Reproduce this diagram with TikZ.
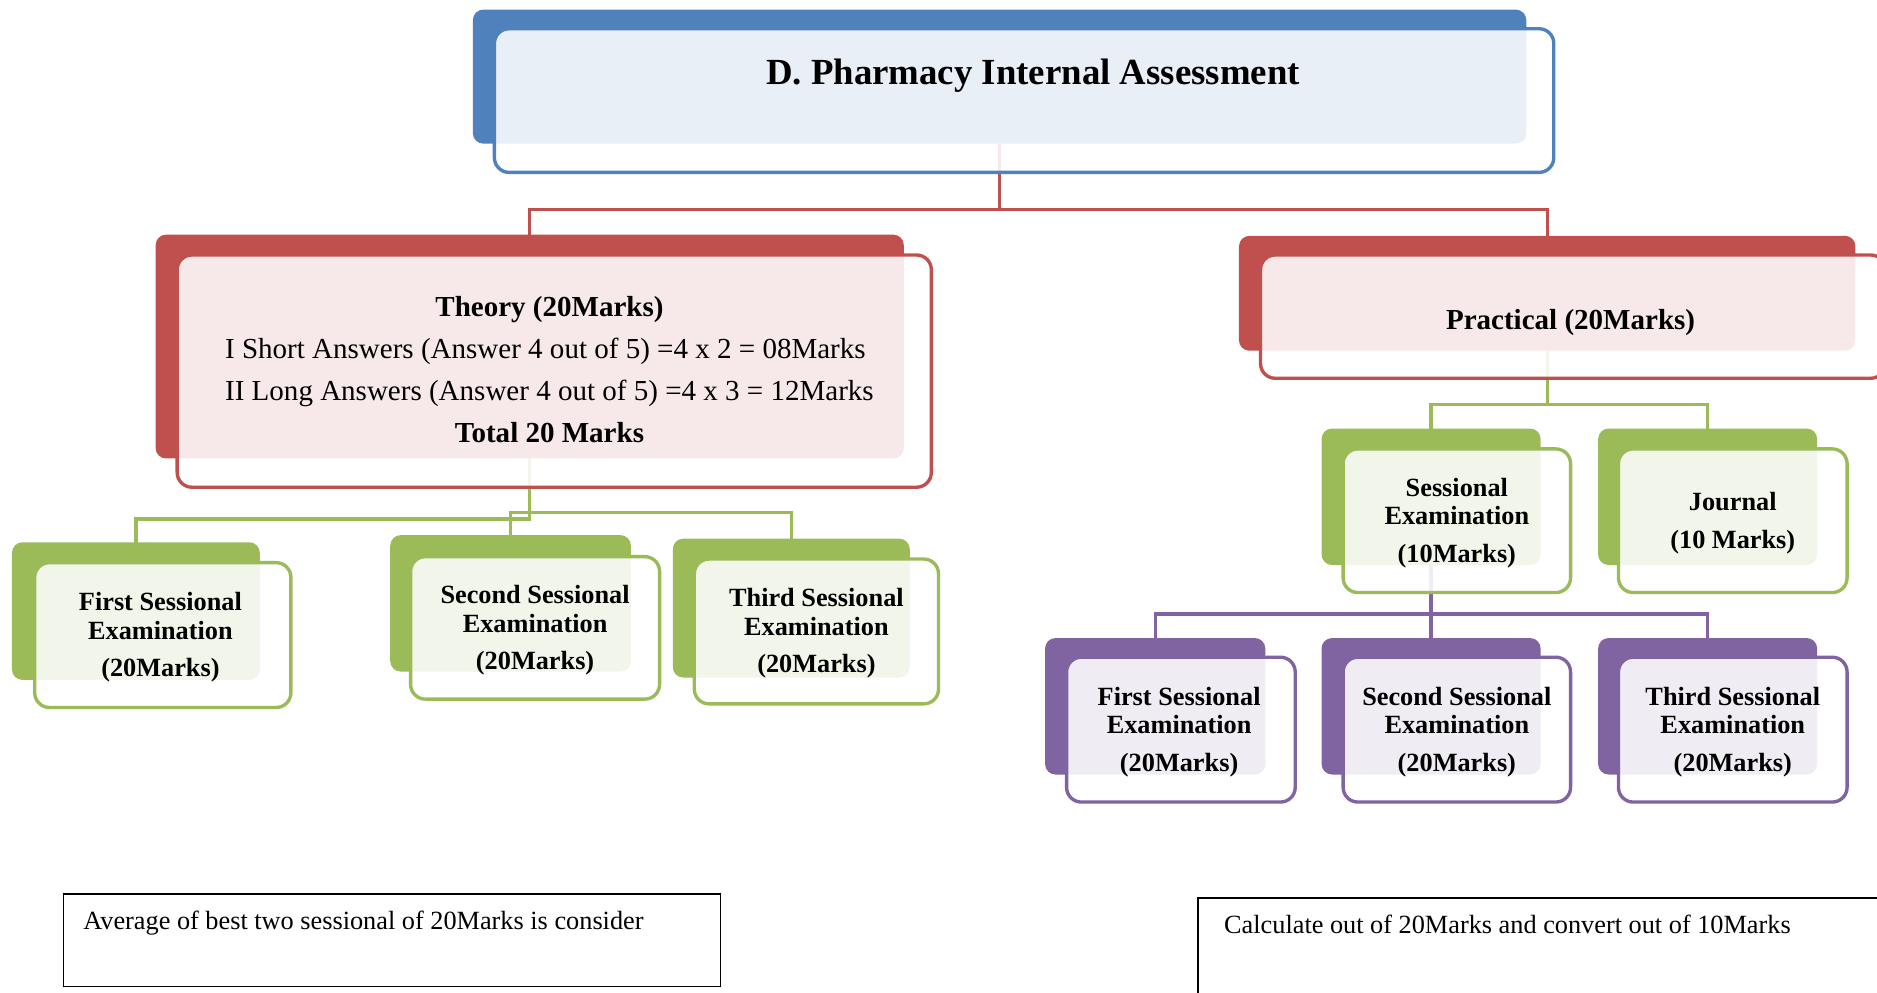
\documentclass[tikz,border=0pt]{standalone}
\usepackage{fontspec}
\setmainfont{Liberation Serif}
\usetikzlibrary{fit,calc,backgrounds}
\definecolor{hdblue}{HTML}{4F81BD}
\definecolor{hdred}{HTML}{C0504D}
\definecolor{hdgreen}{HTML}{9BBB59}
\definecolor{hdpurple}{HTML}{8064A2}
\tikzset{
    backbox/.style={rectangle, rounded corners=5pt, fill=#1, inner sep=0pt},
    frontbox/.style={rectangle, rounded corners=7pt, draw=#1, line width=1.6pt,
    fill=white, fill opacity=0.88, inner sep=0pt},
    boxtext/.style={align=center, inner sep=0pt, yshift=-1pt,
    font=\fontsize{12.5}{13.7}\selectfont\bfseries},
    bigtext/.style={boxtext, font=\fontsize{13.8}{20}\selectfont},
    link/.style={draw=#1, line width=1.6pt},
    notebox/.style={rectangle, draw=black, line width=0.8pt, inner sep=0pt},
    notetext/.style={anchor=west, inner sep=0pt, font=\fontsize{12.5}{15}\selectfont}
}

\begin{document}
\begin{tikzpicture}[x=0.02cm, y=-0.02cm]
    \useasboundingbox (0,0) rectangle (1568,829);
    \clip (0,0) rectangle (1568,829);

    \node [backbox=hdblue, fit={(395,8) (1275,120)}] (assess-bg) {};
    \node [frontbox=hdblue, fit={(413,24) (1298,144)}] (assess) {};
    \node [font=\fontsize{17.5}{21}\selectfont\bfseries] (title) at (863,63) {D. Pharmacy Internal Assessment};

    \node [backbox=hdred, fit={(130,196) (755,383)}] (theory-bg) {};
    \node [frontbox=hdred, fit={(148,213) (778,407)}] (theory) {};
    \node [bigtext] (theory-txt) at ($(theory.center)+(-4,-2)$)
        {\begin{tabular}{@{}l@{}}
        \multicolumn{1}{@{}c@{}}{\textbf{Theory (20Marks)}}\\
        I Short Answers (Answer 4 out of 5) =4 x 2 = 08Marks\\
        II Long Answers (Answer 4 out of 5) =4 x 3 = 12Marks\\
        \multicolumn{1}{@{}c@{}}{\textbf{Total 20 Marks}}
        \end{tabular}};

    \node [backbox=hdred, fit={(1035,197) (1550,293)}] (practical-bg) {};
    \node [frontbox=hdred, fit={(1053,213) (1575,316)}] (practical) {};
    \node [bigtext, font=\fontsize{13.8}{20}\selectfont\bfseries, yshift=-2pt] (practical-txt) at ($(practical.center)+(-2,0)$) {Practical (20Marks)};

    \node [backbox=hdgreen, fit={(10,453) (217,568)}] (first-bg) {};
    \node [frontbox=hdgreen, fit={(29,470) (243,591)}] (first) {};
    \node [boxtext] (first-txt) at ($(first.center)+(-2,0)$) {First Sessional\\ Examination\\[4pt] (20Marks)};
    \node [backbox=hdgreen, fit={(326,447) (527,561)}] (second-bg) {};
    \node [frontbox=hdgreen, fit={(343,465) (551,584)}] (second) {};
    \node [boxtext] (second-txt) at (second.center) {Second Sessional\\ Examination\\[4pt] (20Marks)};
    \node [backbox=hdgreen, fit={(562,450) (760,566)}] (third-bg) {};
    \node [frontbox=hdgreen, fit={(580,467) (784,588)}] (third) {};
    \node [boxtext] (third-txt) at (third.center) {Third Sessional\\ Examination\\[4pt] (20Marks)};

    \node [backbox=hdgreen, fit={(1104,358) (1287,472)}] (sessional-bg) {};
    \node [frontbox=hdgreen, fit={(1122,375) (1312,495)}] (sessional) {};
    \node [boxtext] (sessional-txt) at (sessional.center) {Sessional\\ Examination\\[4pt] (10Marks)};
    \node [backbox=hdgreen, fit={(1335,358) (1518,472)}] (journal-bg) {};
    \node [frontbox=hdgreen, fit={(1352,375) (1543,495)}] (journal) {};
    \node [boxtext] (journal-txt) at (journal.center) {Journal\\[4.3pt] (10 Marks)};

    \node [backbox=hdpurple, fit={(873,533) (1057,647)}] (pfirst-bg) {};
    \node [frontbox=hdpurple, fit={(891,549) (1082,670)}] (pfirst) {};
    \node [boxtext] (pfirst-txt) at ($(pfirst.center)+(-1.5,0)$) {First Sessional\\ Examination\\[4pt] (20Marks)};
    \node [backbox=hdpurple, fit={(1104,533) (1287,647)}] (psecond-bg) {};
    \node [frontbox=hdpurple, fit={(1122,549) (1312,670)}] (psecond) {};
    \node [boxtext] (psecond-txt) at (psecond.center) {Second Sessional\\ Examination\\[4pt] (20Marks)};
    \node [backbox=hdpurple, fit={(1335,533) (1518,647)}] (pthird-bg) {};
    \node [frontbox=hdpurple, fit={(1352,549) (1543,670)}] (pthird) {};
    \node [boxtext] (pthird-txt) at (pthird.center) {Third Sessional\\ Examination\\[4pt] (20Marks)};

    \begin{scope}[on background layer]
        \draw [link=hdred] (assess-bg.center) -- ++(0,111) -| (theory-bg.center);
        \draw [link=hdred] (assess-bg.center) -- ++(0,111) -| (practical-bg.center);
        \draw [link=hdgreen] (theory-bg.center) -- ++(0,144) -| (first-bg.center);
        \draw [link=hdgreen] (second-bg.center) -- ++(0,-76) -| (third-bg.center);
        \draw [link=hdgreen] (practical-bg.center) -- ++(0,93) -| (sessional-bg.center);
        \draw [link=hdgreen] (practical-bg.center) -- ++(0,93) -| (journal-bg.center);
        \draw [link=hdpurple] (sessional-bg.center) -- ++(0,98) -| (pfirst-bg.center);
        \draw [link=hdpurple] (sessional-bg.center) -- ++(0,98) -| (psecond-bg.center);
        \draw [link=hdpurple] (sessional-bg.center) -- ++(0,98) -| (pthird-bg.center);
    \end{scope}

    \node [notebox, fit={(53,747) (602,824)}] (avgnote) {};
    \node [notetext] (avgtext) at ($(avgnote.north west)+(17,25)$) {Average of best two sessional of 20Marks is consider};
    \node [notebox, fit={(1001,750) (1600,860)}] (calcnote) {};
    \node [notetext] (calctext) at ($(calcnote.north west)+(22,23)$) {Calculate out of 20Marks and convert out of 10Marks};
\end{tikzpicture}
\end{document}
